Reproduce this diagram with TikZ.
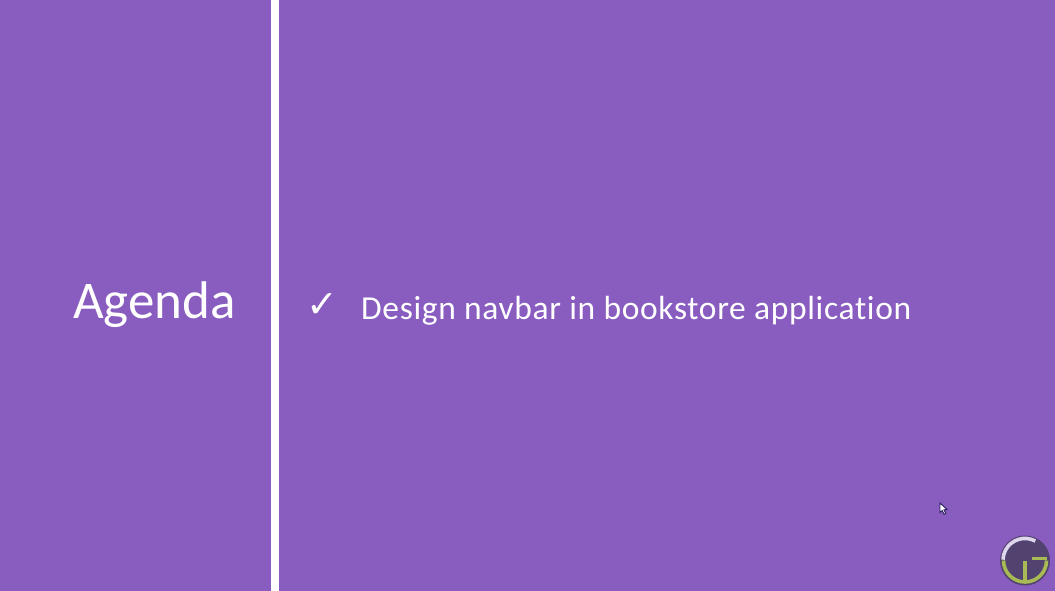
\documentclass[tikz,border=0pt]{standalone}
\usepackage{fontspec}
\setmainfont{Carlito}[Ligatures=NoCommon]
\newfontfamily\bodyfont{Carlito}[LetterSpace=2.0,Ligatures=NoCommon]
\newfontfamily\symfont{DejaVu Sans}
\definecolor{bgpurple}{RGB}{137,92,192}
\definecolor{ringolive}{RGB}{168,186,84}
\definecolor{ringlight}{RGB}{222,214,236}
\definecolor{innerdark}{RGB}{82,66,112}
\definecolor{cursordark}{RGB}{40,30,90}
\tikzset{x=1pt,y=-1pt,
 slidetext/.style={text=white,inner sep=0pt,anchor=base west},
 logostroke/.style={line width=3.6pt,line cap=butt}}
\begin{document}
\begin{tikzpicture}
\useasboundingbox (0,0) rectangle (1055,591);
\fill[bgpurple] (0,0) rectangle (1055,591);
\fill[white] (271,0) rectangle (279,591);
\node[slidetext,font=\fontsize{53}{53}\selectfont] (title) at (73,318) {Agenda};
\node[slidetext,font=\fontsize{33.5}{33.5}\bodyfont] (item) at (361,319) {Design navbar in bookstore application};
\node[slidetext,font=\fontsize{38}{38}\symfont] (check) at (306,317.5) {✓};
% logo
\coordinate (logoc) at (1025,560.5);
\fill[innerdark] (logoc) circle (25);
\draw[ringlight,logostroke] (1035.3,541) arc[start angle=-62,end angle=-178,x radius=22,y radius=22];
\draw[ringolive,logostroke] (1003.5,560.5) arc[start angle=180,end angle=0,x radius=21.5,y radius=21.5];
\draw[ringolive,logostroke] (1032,558.5) -- (1047,558.5);
\draw[ringolive,logostroke] (1025,561) -- (1025,582);
% cursor
\fill[white,draw=cursordark,line width=0.9] (940,503) -- (940,512.5) -- (942.2,510.5) -- (944,514.3) -- (945.8,513.4) -- (944,509.8) -- (947,509.5) -- cycle;
\end{tikzpicture}
\end{document}
